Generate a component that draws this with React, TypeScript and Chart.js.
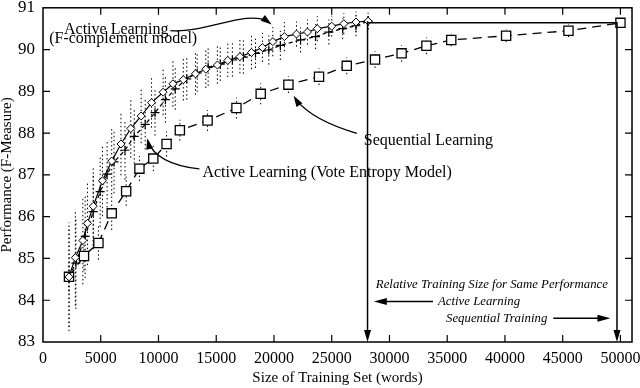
import React, { useEffect, useRef } from "react";
import { Chart, registerables } from "chart.js";
Chart.register(...registerables);

// ---- Data ----
const fcompX = [2250, 2800, 3450, 3850, 4350, 5150, 5950, 6750, 7600, 8500, 9400, 10400, 11250, 12150, 13200, 14100, 15100, 16000, 17050, 18050, 19000, 19900, 20900, 21950, 22900, 23750, 25000, 26050, 27100, 28150];
const fcompY = [84.56, 85.02, 85.43, 85.84, 86.25, 86.86, 87.33, 87.74, 88.11, 88.41, 88.73, 88.98, 89.18, 89.28, 89.42, 89.53, 89.63, 89.74, 89.83, 89.93, 90.05, 90.19, 90.31, 90.37, 90.42, 90.5, 90.56, 90.62, 90.66, 90.68];
const fcompErr = [1.3, 1.15, 1.05, 1.0, 0.95, 0.85, 0.8, 0.75, 0.7, 0.65, 0.6, 0.55, 0.55, 0.5, 0.5, 0.45, 0.45, 0.4, 0.4, 0.4, 0.35, 0.35, 0.35, 0.3, 0.3, 0.3, 0.25, 0.25, 0.25, 0.2];

const voteX = [2250, 2850, 3650, 4350, 4950, 5550, 6150, 7100, 7900, 8850, 9700, 10600, 11450, 12450, 13350, 14300, 15350, 16400, 17350, 18400, 19550, 20550, 22300, 23600, 24750, 25950, 27100, 28150];
const voteY = [84.56, 84.89, 85.53, 86.12, 86.6, 87.02, 87.31, 87.59, 87.92, 88.21, 88.49, 88.8, 89.06, 89.3, 89.44, 89.58, 89.65, 89.75, 89.82, 89.91, 89.99, 90.1, 90.23, 90.31, 90.42, 90.5, 90.57, 90.68];
const voteErr = [1.2, 1.1, 1.0, 0.9, 0.85, 0.8, 0.75, 0.7, 0.65, 0.6, 0.55, 0.55, 0.5, 0.5, 0.45, 0.45, 0.4, 0.4, 0.4, 0.35, 0.35, 0.35, 0.3, 0.3, 0.3, 0.25, 0.25, 0.2];

const seqX = [2250, 3550, 4800, 5950, 7200, 8350, 9550, 10700, 11850, 14250, 16750, 18850, 21250, 23900, 26300, 28750, 31050, 33200, 35350, 40100, 45500, 50000];
const seqY = [84.56, 85.06, 85.37, 86.08, 86.61, 87.15, 87.39, 87.74, 88.07, 88.3, 88.6, 88.94, 89.16, 89.35, 89.61, 89.76, 89.91, 90.09, 90.23, 90.33, 90.45, 90.64];
const seqErr = [0.35, 0.35, 0.4, 0.4, 0.35, 0.3, 0.3, 0.3, 0.25, 0.25, 0.25, 0.25, 0.2, 0.2, 0.2, 0.2, 0.2, 0.2, 0.15, 0.15, 0.15, 0.1];

const xTickValues = [0, 5000, 10000, 15000, 20000, 25000, 30000, 35000, 40000, 45000, 50000];
const yTickValues = [83, 84, 85, 86, 87, 88, 89, 90, 91];

const activeSize = 28100; // active learning training size for same performance
const seqSize = 49700; // sequential training size
const samePerf = 90.64;

const FONT = '"Liberation Serif", "Times New Roman", serif';

function pts(xs: number[], ys: number[]) {
  return xs.map((x, i) => ({ x, y: ys[i] }));
}
function errPts(xs: number[], ys: number[], es: number[]) {
  const out: any[] = [];
  xs.forEach((x, i) => {
    out.push({ x, y: ys[i] - es[i] });
    out.push({ x, y: ys[i] + es[i] });
    out.push({ x, y: null });
  });
  return out;
}

function arrowHead(ctx: CanvasRenderingContext2D, tx: number, ty: number, fx: number, fy: number, len = 10, half = 3.5) {
  const a = Math.atan2(ty - fy, tx - fx);
  const c = Math.cos(a), s = Math.sin(a);
  ctx.beginPath();
  ctx.moveTo(tx, ty);
  ctx.lineTo(tx - len * c + half * s, ty - len * s - half * c);
  ctx.lineTo(tx - len * c - half * s, ty - len * s + half * c);
  ctx.closePath();
  ctx.fill();
}

const decor = {
  id: "decor",
  afterDraw(chart: any) {
    const { ctx, chartArea: a, scales } = chart;
    const xs = scales.x, ys = scales.y;
    const X = (v: number) => xs.getPixelForValue(v);
    const Y = (v: number) => ys.getPixelForValue(v);
    ctx.save();
    ctx.strokeStyle = "#000";
    ctx.fillStyle = "#000";
    ctx.setLineDash([]);
    // frame
    ctx.lineWidth = 1.5;
    ctx.strokeRect(a.left, a.top, a.right - a.left, a.bottom - a.top);
    // inward ticks
    ctx.lineWidth = 1.2;
    const tl = 7;
    ctx.beginPath();
    xTickValues.forEach((v) => {
      if (v === 0) return;
      const px = X(v);
      ctx.moveTo(px, a.bottom); ctx.lineTo(px, a.bottom - tl);
      ctx.moveTo(px, a.top); ctx.lineTo(px, a.top + tl);
    });
    yTickValues.forEach((v) => {
      if (v === 83 || v === 91) return;
      const py = Y(v);
      ctx.moveTo(a.left, py); ctx.lineTo(a.left + tl, py);
      ctx.moveTo(a.right, py); ctx.lineTo(a.right - tl, py);
    });
    ctx.stroke();

    // same-performance lines
    ctx.lineWidth = 1.5;
    ctx.beginPath();
    ctx.moveTo(X(activeSize), Y(90.68));
    ctx.lineTo(X(activeSize), a.bottom - 8);
    ctx.moveTo(X(activeSize), Y(samePerf));
    ctx.lineTo(X(seqSize), Y(samePerf));
    ctx.lineTo(X(seqSize), a.bottom - 8);
    ctx.stroke();
    arrowHead(ctx, X(activeSize), a.bottom, X(activeSize), a.bottom - 20, 12, 3.5);
    arrowHead(ctx, X(seqSize), a.bottom, X(seqSize), a.bottom - 20, 12, 3.5);

    // curved arrows
    ctx.lineWidth = 1.3;
    // Active Learning (F-complement) arrow
    ctx.beginPath();
    ctx.moveTo(X(11024), Y(90.456));
    ctx.bezierCurveTo(X(14063), Y(90.385), X(17535), Y(90.953), X(19500), Y(90.68));
    ctx.stroke();
    arrowHead(ctx, X(19792), Y(90.6), X(18600), Y(90.85), 11, 3.5);
    // Sequential Learning arrow
    ctx.beginPath();
    ctx.moveTo(X(27170), Y(87.994));
    ctx.quadraticCurveTo(X(23351), Y(88.302), X(21900), Y(88.8));
    ctx.stroke();
    arrowHead(ctx, X(21701), Y(88.893), X(22700), Y(88.45), 11, 3.5);
    // Vote Entropy arrow
    ctx.beginPath();
    ctx.moveTo(X(13542), Y(87.142));
    ctx.quadraticCurveTo(X(9809), Y(87.26), X(9100), Y(87.8));
    ctx.stroke();
    arrowHead(ctx, X(9028), Y(87.876), X(9500), Y(87.3), 11, 3.5);

    // labels
    ctx.textBaseline = "alphabetic";
    ctx.font = `16px ${FONT}`;
    ctx.textAlign = "center";
    ctx.fillText("Active Learning", X(6337), Y(90.373));
    ctx.fillText("(F-complement model)", X(6944), Y(90.16));
    ctx.textAlign = "left";
    ctx.fillText("Sequential Learning", X(27778), Y(87.71));
    ctx.fillText("Active Learning (Vote Entropy Model)", X(13802), Y(86.953));

    ctx.font = `italic 12.8px ${FONT}`;
    ctx.fillText("Relative Training Size for Same Performance", X(28820), Y(84.302));
    ctx.fillText("Active Learning", X(34201), Y(83.887));
    ctx.fillText("Sequential Training", X(34896), Y(83.473));

    // straight arrows
    ctx.lineWidth = 1.5;
    ctx.beginPath();
    ctx.moveTo(X(33767), Y(83.97));
    ctx.lineTo(X(29300), Y(83.97));
    ctx.moveTo(X(44184), Y(83.568));
    ctx.lineTo(X(48500), Y(83.568));
    ctx.stroke();
    arrowHead(ctx, X(28646), Y(83.97), X(30000), Y(83.97), 13, 3.5);
    arrowHead(ctx, X(49132), Y(83.568), X(47000), Y(83.568), 13, 3.5);
    ctx.restore();
  },
};

export default function App() {
  const ref = useRef<HTMLCanvasElement | null>(null);
  useEffect(() => {
    if (!ref.current) return;
    const dotted = {
      type: "line" as const,
      borderColor: "#000",
      borderWidth: 1,
      borderDash: [1.5, 2.5],
      pointRadius: 0,
      spanGaps: false,
      order: 10,
    };
    const chart = new Chart(ref.current, {
      type: "line",
      data: {
        datasets: [
          {
            label: "Active Learning (F-complement model)",
            data: pts(fcompX, fcompY),
            borderColor: "#000",
            borderWidth: 1.2,
            pointStyle: "rectRot",
            pointRadius: 4,
            pointBackgroundColor: "#fff",
            pointBorderColor: "#000",
            pointBorderWidth: 1,
            order: 1,
          },
          {
            label: "Active Learning (Vote Entropy Model)",
            data: pts(voteX, voteY),
            borderColor: "#000",
            borderWidth: 1.2,
            borderDash: [4, 3],
            pointStyle: "cross",
            pointRadius: 4.5,
            pointBorderColor: "#000",
            pointBorderWidth: 1.2,
            order: 2,
          },
          {
            label: "Sequential Learning",
            data: pts(seqX, seqY),
            borderColor: "#000",
            borderWidth: 1.3,
            borderDash: [9, 6],
            pointStyle: "rect",
            pointRadius: 6.5,
            pointBackgroundColor: "#fff",
            pointBorderColor: "#000",
            pointBorderWidth: 1.3,
            order: 3,
          },
          { ...dotted, label: "err1", data: errPts(fcompX, fcompY, fcompErr) },
          { ...dotted, label: "err2", data: errPts(voteX, voteY, voteErr) },
          { ...dotted, label: "err3", data: errPts(seqX, seqY, seqErr) },
        ] as any,
      },
      options: {
        animation: false,
        responsive: false,
        maintainAspectRatio: false,
        layout: { padding: { left: 0, top: 4, right: 8, bottom: 0 } },
        plugins: { legend: { display: false }, tooltip: { enabled: false } },
        elements: { line: { tension: 0 } },
        scales: {
          x: {
            type: "linear",
            min: 0,
            max: 51000,
            afterBuildTicks: (s: any) => {
              s.ticks = xTickValues.map((v) => ({ value: v }));
            },
            afterFit: (s: any) => {
              s.height = 46;
              s.paddingLeft = 0;
              s.paddingRight = 0;
            },
            ticks: {
              autoSkip: false,
              maxRotation: 0,
              padding: 7,
              color: "#000",
              font: { family: FONT, size: 16 },
              callback: (v: any) => String(v),
            },
            grid: { display: false, drawTicks: false },
            border: { display: false },
            title: {
              display: true,
              text: "Size of Training Set (words)",
              color: "#000",
              font: { family: FONT, size: 15, lineHeight: 1 },
              padding: { top: 0, bottom: 2.5 },
            },
          },
          y: {
            type: "linear",
            min: 83,
            max: 91,
            afterBuildTicks: (s: any) => {
              s.ticks = yTickValues.map((v) => ({ value: v }));
            },
            afterFit: (s: any) => {
              s.width = 43;
              s.paddingTop = 0;
              s.paddingBottom = 0;
            },
            ticks: {
              autoSkip: false,
              padding: 8,
              color: "#000",
              font: { family: FONT, size: 17 },
              callback: (v: any) => String(v),
            },
            grid: { display: false, drawTicks: false },
            border: { display: false },
            title: {
              display: true,
              text: "Performance (F-Measure)",
              color: "#000",
              font: { family: FONT, size: 15, lineHeight: 1 },
              padding: { top: 0, bottom: 0 },
            },
          },
        },
      },
      plugins: [decor],
    } as any);
    return () => chart.destroy();
  }, []);
  return (
    <div style={{ position: "fixed", left: 0, top: 0, width: 640, height: 388, background: "#fff" }}>
      <canvas ref={ref} width={640} height={388} style={{ display: "block" }} />
    </div>
  );
}
